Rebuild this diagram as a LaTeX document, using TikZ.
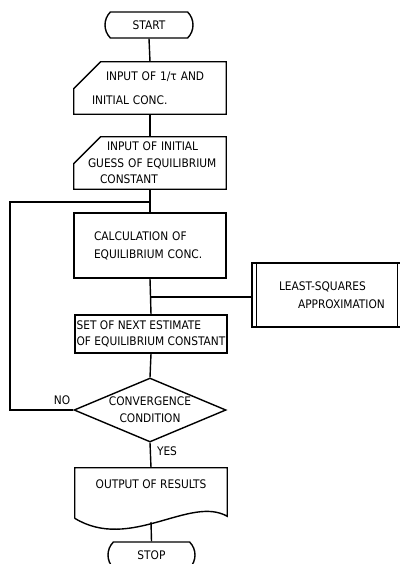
\documentclass[tikz,border=0pt]{standalone}
\usepackage{fontspec}
\setmainfont{DejaVu Sans Condensed}
\usetikzlibrary{shapes.geometric,shapes.misc,calc}
\newlength{\fpx}
\setlength{\fpx}{0.025cm}
\newcommand{\fctxt}{\fontsize{8.4}{11.6}\selectfont}
\tikzset{
  conn/.style={line width=1pt},
  trmblk/.style={rounded rectangle,rounded rectangle arc length=90,draw,line width=1pt,
    minimum width=88*\fpx,minimum height=26*\fpx,inner sep=0pt,font=\fctxt},
  ioblk/.style={rectangle,draw=none,minimum width=152*\fpx,minimum height=52*\fpx,
    inner ysep=0pt,font=\fctxt,align=left},
  prblk/.style={rectangle,draw,line width=1pt,minimum width=152*\fpx,
    inner ysep=0pt,font=\fctxt,align=left},
  decblk/.style={diamond,draw,line width=1pt,minimum width=152*\fpx,minimum height=64*\fpx,
    inner sep=0pt,aspect=2.4,font=\fctxt,align=center},
  docblk/.style={rectangle,draw=none,minimum width=152*\fpx,minimum height=50*\fpx,
    inner sep=0pt,font=\fctxt,text height=6pt,text depth=11.7pt},
  lbl/.style={font=\fctxt,inner sep=0pt},
}
\begin{document}
\begin{tikzpicture}[x=0.025cm,y=-0.025cm]
  \useasboundingbox (0,0) rectangle (400,564);
  % main column
  \node[trmblk] (start) at (149,25) {START};
  \node[ioblk,inner xsep=18*\fpx,text width=116*\fpx] (inone) at (150,88)
    {\hspace*{14\fpx}\mbox{INPUT OF 1/τ AND}\\[5.4pt]\mbox{INITIAL CONC.}};
  \node[ioblk,inner xsep=14*\fpx,text width=124*\fpx] (intwo) at (150,163)
    {\hspace*{19\fpx}\mbox{INPUT OF INITIAL}\\\mbox{GUESS OF EQUILIBRIUM}\\\hspace*{12\fpx}\mbox{CONSTANT}};
  \node[prblk,minimum height=65*\fpx,inner xsep=20*\fpx,text width=112*\fpx] (calc) at (150,245.5)
    {\mbox{CALCULATION OF}\\[1.2pt]\mbox{EQUILIBRIUM CONC.}};
  \node[prblk,minimum height=38*\fpx,inner xsep=0pt] (setb) at (151,334)
    {SET OF NEXT ESTIMATE\\OF EQUILIBRIUM CONSTANT};
  \node[prblk,minimum width=151*\fpx,minimum height=64*\fpx,inner xsep=27*\fpx,text width=97*\fpx] (lsq) at (327.5,295)
    {\mbox{LEAST-SQUARES}\\[1.2pt]\hspace*{19\fpx}\mbox{APPROXIMATION}};
  \node[decblk] (dec) at (150,410) {CONVERGENCE\\[0.4pt]CONDITION};
  \node[docblk] (outp) at (151,493) {OUTPUT OF RESULTS};
  \node[trmblk,minimum width=87*\fpx] (stop) at (151.5,555) {STOP};
  \node[lbl] (no) at (62,400) {NO};
  \node[lbl] (yes) at (167,451) {YES};

  \coordinate (junA) at (150,202);
  \coordinate (junB) at (150,297);
  \coordinate (lp) at (10,202);
  \coordinate (outb) at (151,522);

  % odd outlines
  \foreach \n in {inone,intwo}
    \draw[conn] ($(\n.north west)+(27,0)$) -- (\n.north east) -- (\n.south east)
      -- (\n.south west) -- ($(\n.north west)+(0,27)$) -- cycle;
  \draw[conn] ($(lsq.north west)+(5,0)$) -- ($(lsq.south west)+(5,0)$)
    ($(lsq.north east)+(-6,0)$) -- ($(lsq.south east)+(-6,0)$);
  \draw[conn] (outp.south west) -- (outp.north west) -- (outp.north east)
    -- ($(outp.south east)+(0,-2)$) .. controls (190,495) and (130,552) .. (outp.south west);

  % connectors
  \foreach \a/\b in {start/inone,inone/intwo,calc/setb,setb/dec,dec/outp}
    \draw[conn] (\a.south) -- (\b.north);
  \draw[conn] (intwo.south) -- (junA) -- (calc.north);
  \draw[conn] (junB) -- (junB -| lsq.west);
  \draw[conn] (dec.west) -| (lp) -- (junA);
  \draw[conn] (outb) -- (stop.north);
\end{tikzpicture}
\end{document}
